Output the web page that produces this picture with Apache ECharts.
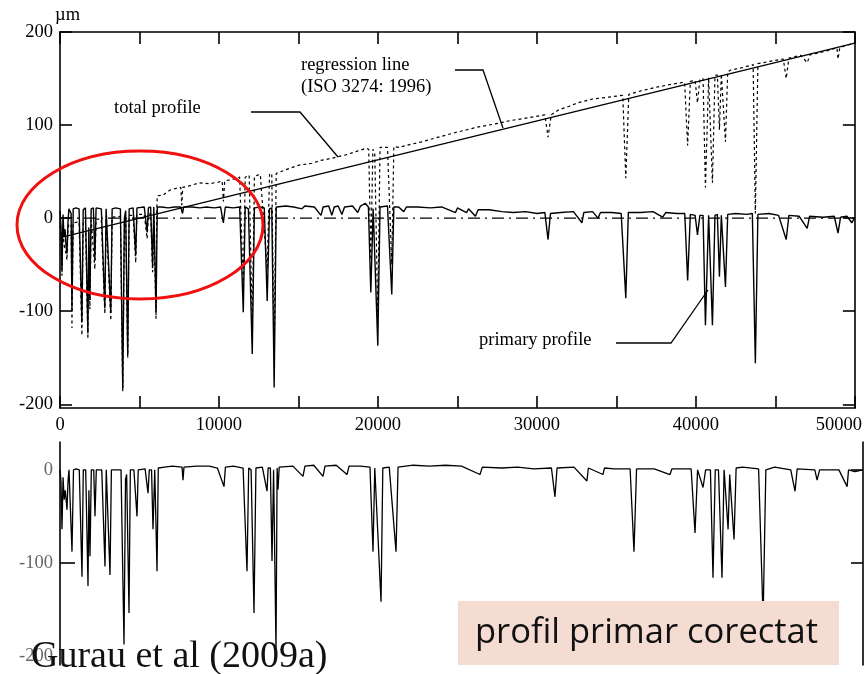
<!DOCTYPE html>
<html>
<head>
<meta charset="utf-8">
<title>Profil primar corectat</title>
<script src="https://cdn.jsdelivr.net/npm/echarts@6/dist/echarts.min.js"></script>
<style>
  html, body { margin: 0; padding: 0; background: #fff; }
  #chart { width: 865px; height: 674px; }
</style>
</head>
<body>
<div id="chart"></div>
<script>
// ---- data (x in µm along the scan, y in µm) ----

// tick labels
const xLabelValues = [0, 10000, 20000, 30000, 40000, 50000]
const yTopValues = [-200, -100, 0, 100, 200]
const yBottomLabels = [-200, -100, 0]

// regression line (ISO 3274: 1996) and zero reference
const regressionLine = [[0, -21], [50000, 188]]
const zeroLine = [[0, 0], [50000, 0]]

// total profile (dotted)
const totalProfile = [
  [0, -8], [60, -14], [125, -62], [190, -8], [250, -28], [380, -38], [440, -45], [500, -12],
  [560, -6], [700, -7], [752, -118], [830, -5], [1200, -4], [1378, -126], [1460, -4], [1600, -3],
  [1754, -130], [1810, -15], [1880, -98], [1960, -2], [2193, -55], [2270, -1], [2600, -1],
  [2820, -103], [2900, 0], [3020, 0], [3196, -110], [3280, 1], [3800, 2], [3948, -186], [4050, -5],
  [4130, 2], [4261, -150], [4350, 3], [4600, 3], [4762, -48], [4840, 4], [5300, 4], [5480, -22],
  [5560, 4], [5700, 5], [5827, -58], [5900, 5], [6040, -108], [6080, 5], [6120, 24], [6500, 25],
  [6900, 30], [7300, 32], [7600, 33], [7660, 14], [7720, 33], [8200, 35], [8770, 38], [9400, 37],
  [10030, 39], [10200, 40], [10280, 18], [10360, 40], [10900, 42], [11300, 44], [11529, -72],
  [11650, 44], [11900, 46], [12093, -118], [12230, 45], [12600, 47], [13033, -55], [13180, 47],
  [13320, 48], [13472, -150], [13600, 48], [14200, 52], [15040, 57], [15850, 59], [16400, 62],
  [17000, 64], [17980, 68], [18700, 72], [19250, 75], [19420, 74], [19550, -45], [19680, 74],
  [19800, 70], [19990, -105], [20130, 76], [20600, 76], [20870, -50], [21000, 77], [21300, 76],
  [22000, 79], [22750, 82], [23800, 87], [24880, 92], [25600, 95], [26320, 98], [27300, 101],
  [28390, 105], [29500, 108], [30500, 111], [30700, 87], [30900, 111], [31330, 116], [32000, 120],
  [32580, 124], [33500, 128], [34500, 130], [35400, 132], [35590, 43], [35780, 133], [36600, 137],
  [37600, 141], [38500, 144], [39290, 146], [39480, 78], [39650, 147], [39950, 148], [40100, 124],
  [40250, 149], [40450, 150], [40600, 33], [40800, 151], [40900, 152], [41040, 38], [41200, 153],
  [41350, 154], [41480, 95], [41600, 155], [41860, 82], [42000, 157], [42170, 159], [43000, 162],
  [43600, 165], [43740, 5], [43900, 166], [44800, 169], [45500, 171], [45680, 150], [45850, 172],
  [46600, 175], [47000, 167], [47200, 176], [47620, 177], [48300, 180], [48870, 183], [48940, 171],
  [49050, 183], [49500, 186], [50000, 188]
]

// primary profile (solid, top chart)
const primaryProfile = [
  [0, 8], [60, -8], [125, -56], [190, 4], [250, -20], [320, -12], [380, -30], [440, -38], [500, -5],
  [560, 10], [700, 5], [752, -100], [830, 10], [1000, 11], [1200, 10], [1378, -112], [1460, 9],
  [1600, 11], [1754, -124], [1810, -10], [1880, -88], [1960, 10], [2100, 11], [2193, -45], [2270, 11],
  [2600, 10], [2820, -97], [2900, 10], [3020, 11], [3196, -102], [3280, 10], [3500, 11], [3800, 10],
  [3948, -183], [4050, 0], [4130, 8], [4261, -148], [4350, 10], [4600, 11], [4762, -40], [4840, 11],
  [5300, 12], [5480, -15], [5560, 11], [5700, 12], [5827, -52], [5900, 12], [6040, -101], [6120, 12],
  [6400, 12], [6800, 11], [7200, 12], [7600, 12], [7707, 5], [7780, 12], [8300, 12], [8800, 11],
  [9200, 12], [9700, 11], [10100, 12], [10276, -5], [10400, 12], [10900, 11], [11300, 12],
  [11529, -101], [11650, 12], [11850, 10], [12093, -146], [12230, 11], [12600, 12], [12850, 11],
  [13033, -89], [13180, 10], [13320, 11], [13472, -182], [13600, 12], [14200, 13], [14700, 12],
  [15220, 10], [15400, 13], [16000, 12], [16420, 3], [16550, 12], [16900, 13], [17100, 3],
  [17250, 12], [17500, 13], [17730, 4], [17900, 12], [18400, 13], [18730, 6], [18900, 13],
  [19200, 16], [19400, 12], [19550, -80], [19700, 10], [19820, 12], [19990, -137], [20130, 12],
  [20600, 13], [20870, -82], [21000, 12], [21300, 12], [21620, 7], [21800, 12], [22500, 12],
  [23300, 11], [24000, 12], [24880, 6], [25000, 11], [25570, 6], [25700, 10], [26130, 2],
  [26300, 9], [27000, 9], [27800, 7], [28500, 6], [29300, 7], [30000, 5], [30500, 6], [30700, -23],
  [30850, 5], [31500, 6], [32300, 7], [32830, -5], [32950, 6], [33500, 7], [33840, 0], [34000, 6],
  [34700, 6], [35300, 5], [35590, -86], [35750, 6], [36500, 6], [37300, 7], [37910, 1], [38100, 6],
  [38800, 5], [39300, 5], [39480, -67], [39650, 4], [39950, 3], [40100, -18], [40250, 3], [40450, 3],
  [40600, -115], [40800, 3], [40900, 3], [41040, -115], [41200, 3], [41350, 4], [41480, -63],
  [41600, 3], [41860, -74], [42000, 4], [42500, 5], [43200, 4], [43550, 5], [43740, -156],
  [43900, 4], [44600, 5], [45200, 3], [45680, -23], [45850, 3], [46500, 2], [47000, -11],
  [47150, 2], [48000, 1], [48700, 2], [48940, -16], [49100, 1], [49500, 2], [49810, -5], [50000, 1]
]

// corrected primary profile (bottom chart)
const correctedProfile = [
  [0, 0], [60, -12], [125, -64], [190, -8], [260, -32], [330, -22], [436, -43], [500, -12], [560, 0],
  [680, 0], [747, -88], [840, 0], [1000, 1], [1200, 0], [1370, -115], [1450, 0], [1600, 0],
  [1744, -125], [1800, -22], [1868, -93], [1950, 0], [2100, 0], [2179, -50], [2260, 0], [2600, 0],
  [2802, -104], [2880, 0], [3000, 0], [3114, -113], [3200, 0], [3500, 0], [3800, 0], [3985, -188],
  [4080, -10], [4150, -5], [4297, -154], [4380, 0], [4600, 0], [4795, -50], [4870, 0], [5300, 1],
  [5480, -25], [5560, 0], [5700, 0], [5791, -64], [5900, 0], [6040, -109], [6120, 2], [6500, 3],
  [7000, 4], [7600, 3], [7659, -11], [7720, 3], [8500, 4], [9300, 4], [9800, 2], [10212, -18],
  [10300, 3], [10800, 4], [11400, 2], [11644, -109], [11750, 2], [11900, 0], [12080, -154],
  [12200, 2], [12600, 3], [12890, -23], [12960, 2], [13100, 2], [13201, -98], [13300, 0],
  [13380, 0], [13450, -195], [13520, 2], [13575, -21], [13650, 3], [14500, 4], [15132, -7],
  [15250, 4], [15800, 5], [16377, -7], [16500, 4], [17200, 5], [17871, -5], [18000, 4], [18700, 4],
  [19300, 3], [19490, -88], [19600, 2], [19700, 0], [19989, -142], [20100, 2], [20500, 3],
  [20923, -88], [21050, 3], [22000, 5], [23000, 4], [24000, 5], [25000, 4], [26150, -5], [26300, 3],
  [27500, 2], [28500, 3], [29500, 1], [30600, 2], [30820, -29], [30950, 2], [32000, 3], [32810, -12],
  [32900, 2], [33810, -5], [33900, 2], [34500, 1], [35500, 1], [35740, -88], [35900, 1], [37000, 1],
  [37980, -5], [38100, 1], [39300, 1], [39540, -68], [39700, 0], [40040, -19], [40200, 0],
  [40500, 0], [40660, -116], [40800, 0], [41000, 0], [41220, -116], [41350, 0], [41450, 0],
  [41600, -64], [41700, -5], [41970, -75], [42100, 2], [42500, 3], [43500, 1], [43780, -160],
  [43950, 0], [44500, 3], [45500, 0], [45770, -23], [45900, 1], [47000, 0], [47140, -11],
  [47300, 0], [48500, 0], [49010, -18], [49100, 0], [49500, -2], [50000, 0]
]

// ---- styling helpers ----
const SERIF = "'Liberation Serif', 'Times New Roman', serif"
const FS = 18.5
const axisLine = { onZero: false, lineStyle: { color: '#000', width: 1.6 } }
const tick = (values, len) => ({
  inside: true,
  length: len,
  customValues: values,
  lineStyle: { color: '#000', width: 1.6 }
})

// 50000 sits at the right edge and is pulled back inside the page in the figure
const xFormatter = (v) => (v === 50000 ? '{r|50000}' : String(v))

const initChart = () => {
  const dom = document.getElementById('chart')
  const chart = echarts.init(dom, null, { renderer: 'canvas' })

  const option = {
    animation: false,
    backgroundColor: '#fff',
    grid: [
      { left: 60, top: 32, width: 798, height: 376 },
      { left: 60, top: 442, width: 803, height: 223 }
    ],
    xAxis: [
      {
        gridIndex: 0, type: 'value', position: 'bottom', min: 0, max: 50000, interval: 5000,
        axisLine, axisTick: tick(undefined, 12), splitLine: { show: false },
        axisLabel: {
          customValues: xLabelValues, margin: 8, color: '#000', fontFamily: SERIF, fontSize: FS,
          formatter: xFormatter,
          rich: { r: { padding: [0, 32, 0, 0], color: '#000', fontFamily: SERIF, fontSize: FS } }
        }
      },
      {
        gridIndex: 0, type: 'value', position: 'top', min: 0, max: 50000, interval: 5000,
        axisLine, axisTick: tick(undefined, 12), splitLine: { show: false },
        axisLabel: { show: false }
      },
      { gridIndex: 1, type: 'value', min: 0, max: 50000, show: false }
    ],
    yAxis: [
      {
        gridIndex: 0, type: 'value', position: 'left', min: -204, max: 200,
        axisLine, axisTick: tick(yTopValues, 12), splitLine: { show: false },
        axisLabel: { customValues: yTopValues, margin: 7, color: '#000', fontFamily: SERIF, fontSize: FS }
      },
      {
        gridIndex: 0, type: 'value', position: 'right', min: -204, max: 200,
        axisLine, axisTick: tick(yTopValues, 12), splitLine: { show: false },
        axisLabel: { show: false }
      },
      {
        gridIndex: 1, type: 'value', position: 'left', min: -210, max: 30,
        axisLine, axisTick: tick([-100], 15), splitLine: { show: false },
        axisLabel: { customValues: yBottomLabels, margin: 7, color: '#666', fontFamily: SERIF, fontSize: FS }
      },
      {
        gridIndex: 1, type: 'value', position: 'right', min: -210, max: 30,
        axisLine, axisTick: tick([-100, 0], 12), splitLine: { show: false },
        axisLabel: { show: false }
      }
    ],
    series: [
      {
        name: 'total profile', type: 'line', xAxisIndex: 0, yAxisIndex: 0,
        data: totalProfile, showSymbol: false, z: 2,
        lineStyle: { color: '#000', width: 1.2, type: [3, 3] }
      },
      {
        name: 'zero', type: 'line', xAxisIndex: 0, yAxisIndex: 0,
        data: zeroLine, showSymbol: false, z: 2,
        lineStyle: { color: '#000', width: 1.1, type: [12, 5, 2, 5] }
      },
      {
        name: 'regression line', type: 'line', xAxisIndex: 0, yAxisIndex: 0,
        data: regressionLine, showSymbol: false, z: 3,
        lineStyle: { color: '#000', width: 1.4 }
      },
      {
        name: 'primary profile', type: 'line', xAxisIndex: 0, yAxisIndex: 0,
        data: primaryProfile, showSymbol: false, z: 4,
        lineStyle: { color: '#000', width: 1.4 }
      },
      {
        name: 'profil primar corectat', type: 'line', xAxisIndex: 2, yAxisIndex: 2,
        data: correctedProfile, showSymbol: false, z: 4,
        lineStyle: { color: '#000', width: 1.3 }
      }
    ],
    graphic: [
      // unit
      { type: 'text', x: 55, y: 15, z: 50, style: { text: 'µm', fontFamily: SERIF, fontSize: FS, fill: '#000', verticalAlign: 'middle' } },
      // annotations
      { type: 'text', x: 114, y: 108, z: 50, style: { text: 'total profile', fontFamily: SERIF, fontSize: FS, fill: '#000', verticalAlign: 'middle' } },
      { type: 'polyline', z: 50, shape: { points: [[251, 112], [300, 112], [338, 157]] }, style: { stroke: '#000', lineWidth: 1.3, fill: null } },
      { type: 'text', x: 301, y: 65, z: 50, style: { text: 'regression line', fontFamily: SERIF, fontSize: FS, fill: '#000', verticalAlign: 'middle' } },
      { type: 'text', x: 301, y: 87, z: 50, style: { text: '(ISO 3274: 1996)', fontFamily: SERIF, fontSize: FS, fill: '#000', verticalAlign: 'middle' } },
      { type: 'polyline', z: 50, shape: { points: [[455, 70], [483, 70], [503, 128]] }, style: { stroke: '#000', lineWidth: 1.3, fill: null } },
      { type: 'text', x: 479, y: 340, z: 50, style: { text: 'primary profile', fontFamily: SERIF, fontSize: FS, fill: '#000', verticalAlign: 'middle' } },
      { type: 'polyline', z: 50, shape: { points: [[616, 343], [671, 343], [708, 290]] }, style: { stroke: '#000', lineWidth: 1.3, fill: null } },
      // red highlight around the first cluster
      { type: 'ellipse', z: 60, shape: { cx: 140, cy: 225, rx: 123, ry: 74 }, style: { stroke: '#f01010', lineWidth: 3, fill: null } },
      // caption box
      { type: 'rect', z: 60, shape: { x: 458, y: 601, width: 381, height: 64 }, style: { fill: '#f5dcd2' } },
      { type: 'text', x: 475, y: 633, z: 61, style: { text: 'profil primar corectat', fontFamily: "'Open Sans', 'Noto Sans', sans-serif", fontSize: 34.5, fill: '#111', verticalAlign: 'middle' } },
      // citation
      { type: 'text', x: 31, y: 657, z: 61, style: { text: 'Gurau et al (2009a)', fontFamily: SERIF, fontSize: 38, fill: '#111', verticalAlign: 'middle' } }
    ]
  }
  chart.setOption(option)
}

initChart()
</script>
</body>
</html>
